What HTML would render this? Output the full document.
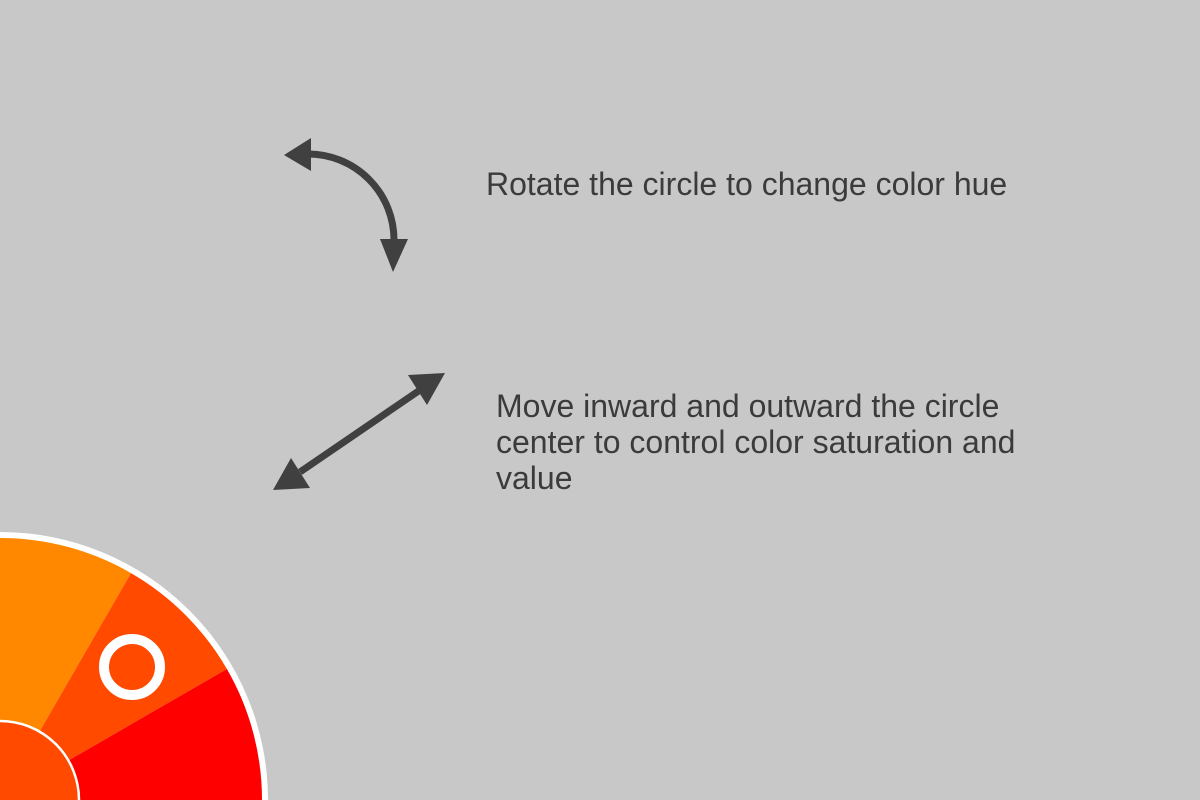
<!DOCTYPE html>
<html><head><meta charset="utf-8"><style>
html,body{margin:0;padding:0;background:#c8c8c8;width:1200px;height:800px;overflow:hidden;position:relative}
svg{position:absolute;left:0;top:0;display:block}
.t{position:absolute;font-family:"Liberation Sans",Arial,sans-serif;font-size:32px;color:#3b3b3b;line-height:36px;white-space:nowrap}
</style></head><body>
<svg width="1200" height="800">
  <g>
    <circle cx="0" cy="800" r="268" fill="#ffffff"/>
    <path d="M0,800 L0,538 A262,262 0 0 1 131,573.1 Z" fill="#ff8800"/>
    <path d="M0,800 L131,573.1 A262,262 0 0 1 226.9,669 Z" fill="#ff4a00"/>
    <path d="M0,800 L226.9,669 A262,262 0 0 1 262,800 Z" fill="#ff0000"/>
    <circle cx="0" cy="800" r="79" fill="#ff4a00" stroke="#ffffff" stroke-width="2.5"/>
    <circle cx="132" cy="667" r="28" fill="none" stroke="#ffffff" stroke-width="10"/>
  </g>
  <g fill="#404040">
    <path d="M308,154 A86,86 0 0 1 394,240" fill="none" stroke="#404040" stroke-width="7"/>
    <polygon points="284,155 311,138 311,171"/>
    <polygon points="393,272 380,239 408,239"/>
  </g>
  <g fill="#404040">
    <line x1="300" y1="472" x2="420" y2="390" stroke="#404040" stroke-width="7"/>
    <polygon points="445,373 408,375 427,405"/>
    <polygon points="273,490 310,488 291,458"/>
  </g>
</svg>
<div class="t" style="left:486px;top:166px">Rotate the circle to change color hue</div>
<div class="t" style="left:496px;top:388px">Move inward and outward the circle<br>center to control color saturation and<br>value</div>
</body></html>
